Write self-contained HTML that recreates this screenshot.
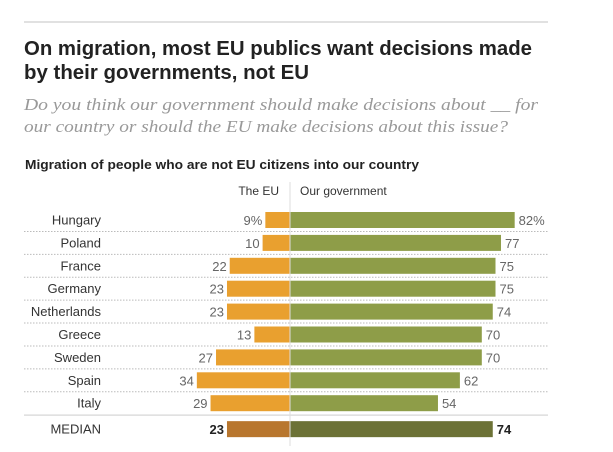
<!DOCTYPE html>
<html><head><meta charset="utf-8"><style>
html,body{margin:0;padding:0;background:#fff;}
svg{display:block;font-family:"Liberation Sans",sans-serif;}
</style></head><body>
<svg width="613" height="452" viewBox="0 0 613 452">
<line x1="24" y1="22" x2="548" y2="22" stroke="#cfcfcf" stroke-width="1.2"/>
<text x="24" y="55" font-size="20" font-weight="bold" fill="#222" textLength="508" lengthAdjust="spacingAndGlyphs">On migration, most EU publics want decisions made</text>
<text x="24" y="79" font-size="20" font-weight="bold" fill="#222" textLength="285" lengthAdjust="spacingAndGlyphs">by their governments, not EU</text>
<text x="24" y="110" font-size="17" font-style="italic" fill="#999" font-family="Liberation Serif,serif" textLength="514" lengthAdjust="spacingAndGlyphs">Do you think our government should make decisions about __ for</text>
<text x="24" y="132" font-size="17" font-style="italic" fill="#999" font-family="Liberation Serif,serif" textLength="484" lengthAdjust="spacingAndGlyphs">our country or should the EU make decisions about this issue?</text>
<text x="25" y="169" font-size="12.5" font-weight="bold" fill="#222" textLength="394" lengthAdjust="spacingAndGlyphs">Migration of people who are not EU citizens into our country</text>
<text x="279" y="195" font-size="12" fill="#333" text-anchor="end">The EU</text>
<text x="300" y="195" font-size="12" fill="#333">Our government</text>
<g id="rows"></g>
<line x1="290" y1="182" x2="290" y2="446" stroke="#ddd" stroke-width="1"/>
</svg>
<script>
const countries=["Hungary","Poland","France","Germany","Netherlands","Greece","Sweden","Spain","Italy"];
const euValues=[9,10,22,23,23,13,27,34,29];
const govValues=[82,77,75,75,74,70,70,62,54];
const medianEU=23;
const medianGov=74;
const cx=290, sc=2.74, rowTop=220, pitch=22.9, bh=16;
const g=document.getElementById('rows');
const NS='http://www.w3.org/2000/svg';
function mk(t,a){const e=document.createElementNS(NS,t);for(const k in a)e.setAttribute(k,a[k]);g.appendChild(e);return e;}
function row(name,eu,gov,y,median,i){
  const lab=mk('text',{x:101,y:y+4.5,'font-size':13,fill:'#333','text-anchor':'end'});
  lab.textContent=name;
  
  
  const r1=mk('rect',{x:cx-eu*sc,y:y-bh/2,width:eu*sc,height:bh,fill:median?'#B8762E':'#E9A02F'});
  
  
  const r2=mk('rect',{x:cx,y:y-bh/2,width:gov*sc,height:bh,fill:median?'#6C7236':'#8E9D48'});
  
  
  const t1=mk('text',{x:cx-eu*sc-3,y:y+5,'font-size':13,fill:median?'#222':'#666','text-anchor':'end','font-weight':median?'bold':'normal'});
  t1.textContent=eu+(i===0?'%':'');
  
  
  const t2=mk('text',{x:cx+gov*sc+4,y:y+5,'font-size':13,fill:median?'#222':'#666','font-weight':median?'bold':'normal'});
  t2.textContent=gov+(i===0?'%':'');
  
  
}
countries.forEach((c,i)=>{
  const y=rowTop+i*pitch;
  row(c,euValues[i],govValues[i],y,false,i);
  if(i<countries.length-1){
    const l=mk('line',{x1:24,y1:y+pitch/2,x2:548,y2:y+pitch/2,stroke:'#bbb','stroke-width':1,'stroke-dasharray':'1.5,1.5'});
    
    
  }
});
const sy=rowTop+8*pitch+pitch/2+0.5;
const sl=mk('line',{x1:24,y1:sy,x2:548,y2:sy,stroke:'#ddd','stroke-width':1.5});


row('MEDIAN',medianEU,medianGov,sy+14,true,-1);
</script>
</body></html>
